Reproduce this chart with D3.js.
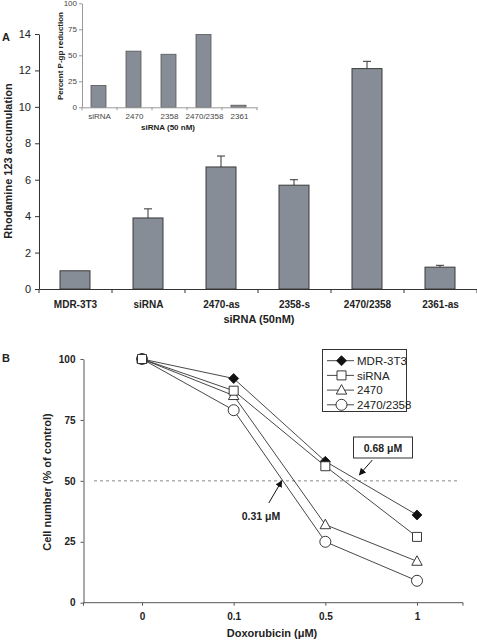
<!DOCTYPE html>
<html><head><meta charset="utf-8">
<script src="https://cdn.jsdelivr.net/npm/d3@7"></script>
<style>body{margin:0;background:#fff} svg{display:block;font-family:"Liberation Sans",Arial,sans-serif}</style>
</head><body><svg id="c" width="477" height="640"></svg>
<script>
// ---------- DATA ----------
const catsA = ["MDR-3T3","siRNA","2470-as","2358-s","2470/2358","2361-as"];
const valuesA = [1.0, 3.9, 6.7, 5.7, 12.1, 1.2];
const errTopA = [null, 4.4, 7.3, 6.0, 12.5, 1.3];
const ticksA = [0,2,4,6,8,10,12,14];

const catsInset = ["siRNA","2470","2358","2470/2358","2361"];
const valuesInset = [21, 54, 51, 70, 2];
const ticksInset = [0,25,50,75,100];

const doses = ["0","0.1","0.5","1"];
const seriesNames = ["MDR-3T3","siRNA","2470","2470/2358"];
const mdr = [100, 92, 58, 36];
const sirna = [100, 87, 56, 27];
const s2470 = [100, 85, 32, 17];
const s2470_2358 = [100, 79, 25, 9];
const ticksB = [0,25,50,75,100];
const ic50 = [0.68, 0.31];

// ---------- SETUP ----------
const svg = d3.select("#c");
const AX = "#333", BAR = "#878d97";

// ===== Panel A main =====
const xA = d3.scaleBand().domain(catsA).range([39, 477]);
const yA = d3.scaleLinear().domain([0, 14]).range([289, 34]);
const gA = svg.append("g");
const barW = 30;
gA.selectAll("rect.bar").data(catsA).join("rect")
  .attr("x", d => xA(d) + (xA.bandwidth() - barW) / 2 - 0.5)
  .attr("y", (d, i) => yA(valuesA[i]))
  .attr("width", barW).attr("height", (d, i) => yA(0) - yA(valuesA[i]))
  .attr("fill", BAR).attr("stroke", "#3a3a3a").attr("stroke-width", 1);
catsA.forEach((c, i) => {
  if (errTopA[i] == null) return;
  const cx = xA(c) + xA.bandwidth() / 2 - 0.5;
  gA.append("line").attr("x1", cx).attr("x2", cx).attr("y1", yA(valuesA[i])).attr("y2", yA(errTopA[i])).attr("stroke", AX);
  gA.append("line").attr("x1", cx - 4).attr("x2", cx + 4).attr("y1", yA(errTopA[i])).attr("y2", yA(errTopA[i])).attr("stroke", AX);
});
// y axis
const yAxA = gA.append("g").attr("transform", "translate(39,0)")
  .call(d3.axisLeft(yA).tickValues(ticksA).tickSize(4).tickSizeOuter(0).tickPadding(4));
yAxA.selectAll("text").attr("font-size", 11).attr("fill", "#222");
yAxA.selectAll("line,path").attr("stroke", AX);
// x axis
const xAxA = gA.append("g").attr("transform", "translate(0,289)")
  .call(d3.axisBottom(xA).tickSize(0).tickPadding(12));
xAxA.selectAll("text").attr("font-size", 10).attr("font-weight", "bold").attr("fill", "#222");
xAxA.select("path").attr("stroke", AX);
catsA.concat([null]).forEach((c, i) => {
  const x = c == null ? xA.range()[1] : xA(c);
  xAxA.append("line").attr("x1", x).attr("x2", x).attr("y1", 0).attr("y2", 4).attr("stroke", AX);
});
gA.append("text").attr("x", 259).attr("y", 323).attr("text-anchor", "middle")
  .attr("font-size", 11).attr("font-weight", "bold").attr("fill", "#222").text("siRNA (50nM)");
gA.append("text").attr("transform", "translate(12,161) rotate(-90)").attr("text-anchor", "middle")
  .attr("font-size", 11).attr("font-weight", "bold").attr("fill", "#222").text("Rhodamine 123 accumulation");
svg.append("text").attr("x", 2).attr("y", 41).attr("font-size", 11).attr("font-weight", "bold").attr("fill", "#222").text("A");

// ===== Inset =====
const xI = d3.scaleBand().domain(catsInset).range([82, 257]);
const yI = d3.scaleLinear().domain([0, 100]).range([107.3, 3.3]);
const gI = svg.append("g");
const barWI = 15;
gI.selectAll("rect").data(catsInset).join("rect")
  .attr("x", d => xI(d) + (xI.bandwidth() - barWI) / 2 - 1)
  .attr("y", (d, i) => yI(valuesInset[i]))
  .attr("width", barWI).attr("height", (d, i) => yI(0) - yI(valuesInset[i]))
  .attr("fill", BAR).attr("stroke", "#555").attr("stroke-width", 0.8);
const yAxI = gI.append("g").attr("transform", "translate(82,0)")
  .call(d3.axisLeft(yI).tickValues(ticksInset).tickSize(3).tickSizeOuter(0).tickPadding(2));
yAxI.selectAll("text").attr("font-size", 8).attr("fill", "#444");
yAxI.selectAll("line,path").attr("stroke", "#999");
const xAxI = gI.append("g").attr("transform", "translate(0,107.3)")
  .call(d3.axisBottom(xI).tickSize(0).tickPadding(6.5));
xAxI.selectAll("text").attr("font-size", 8).attr("fill", "#444");
xAxI.select("path").attr("stroke", "#999");
catsInset.concat([null]).forEach(c => {
  const x = c == null ? xI.range()[1] : xI(c);
  xAxI.append("line").attr("x1", x).attr("x2", x).attr("y1", 0).attr("y2", 3).attr("stroke", "#999");
});
gI.append("text").attr("x", 168).attr("y", 130).attr("text-anchor", "middle")
  .attr("font-size", 8).attr("font-weight", "bold").attr("fill", "#222").text("siRNA (50 nM)");
gI.append("text").attr("transform", "translate(62.5,56) rotate(-90)").attr("text-anchor", "middle")
  .attr("font-size", 8).attr("font-weight", "bold").attr("fill", "#222").text("Percent P-gp reduction");

// ===== Panel B =====
const xB = d3.scalePoint().domain(doses).range([142, 417]);
const yB = d3.scaleLinear().domain([0, 100]).range([602.7, 359]);
const gB = svg.append("g");
const doseNum = doses.map(Number);
function xConc(v) { // position of a concentration between the category points
  for (let i = 0; i < doseNum.length - 1; i++) {
    if (v >= doseNum[i] && v <= doseNum[i + 1]) {
      const t = (v - doseNum[i]) / (doseNum[i + 1] - doseNum[i]);
      return xB(doses[i]) + t * (xB(doses[i + 1]) - xB(doses[i]));
    }
  }
  return xB(doses[doses.length - 1]);
}
// axes
const yAxB = gB.append("g").attr("transform", "translate(83.5,0)")
  .call(d3.axisLeft(yB).tickValues(ticksB).tickSize(3).tickSizeOuter(0).tickPadding(5));
yAxB.selectAll("text").attr("font-size", 10).attr("font-weight", "bold").attr("fill", "#222");
yAxB.selectAll("line,path").attr("stroke", "#555");
const xAxB = gB.append("g").attr("transform", "translate(0,602.7)")
  .call(d3.axisBottom(xB).tickSize(3).tickPadding(7));
xAxB.selectAll("text").attr("font-size", 10).attr("font-weight", "bold").attr("fill", "#222");
xAxB.selectAll("line").attr("stroke", "#555");
xAxB.select("path").remove();
xAxB.append("line").attr("x1", 83.5).attr("x2", 463).attr("y1", 0).attr("y2", 0).attr("stroke", "#555");
[83.5, 463].forEach(x => xAxB.append("line").attr("x1", x).attr("x2", x).attr("y1", 0).attr("y2", 3).attr("stroke", "#555"));
gB.append("text").attr("x", 272).attr("y", 637).attr("text-anchor", "middle")
  .attr("font-size", 11).attr("font-weight", "bold").attr("fill", "#222").text("Doxorubicin (\u03bcM)");
gB.append("text").attr("transform", "translate(51,482) rotate(-90)").attr("text-anchor", "middle")
  .attr("font-size", 11).attr("font-weight", "bold").attr("fill", "#222").text("Cell number (% of control)");
svg.append("text").attr("x", 2).attr("y", 362).attr("font-size", 11).attr("font-weight", "bold").attr("fill", "#222").text("B");

// 50% dashed line
gB.append("line").attr("x1", 94).attr("x2", 460).attr("y1", yB(50)).attr("y2", yB(50))
  .attr("stroke", "#888").attr("stroke-dasharray", "3,3");

// markers
function markerPath(type) {
  if (type === "diamond") return "M0,-5L5,0L0,5L-5,0Z";
  if (type === "square") return "M-4.5,-4.5H4.5V4.5H-4.5Z";
  if (type === "triangle") return "M0,-5.5L5.2,4L-5.2,4Z";
  return d3.arc()({innerRadius: 0, outerRadius: 5.5, startAngle: 0, endAngle: 2 * Math.PI});
}
const series = [
  {name: seriesNames[0], values: mdr, type: "diamond", fill: "#111"},
  {name: seriesNames[1], values: sirna, type: "square", fill: "#fff"},
  {name: seriesNames[2], values: s2470, type: "triangle", fill: "#fff"},
  {name: seriesNames[3], values: s2470_2358, type: "circle", fill: "#fff"}
];
const line = d3.line().x((d, i) => xB(doses[i])).y(d => yB(d));
series.forEach(s => {
  gB.append("path").attr("d", line(s.values)).attr("fill", "none").attr("stroke", "#333").attr("stroke-width", 0.9);
});
const drawOrder = [3, 2, 0, 1];
drawOrder.forEach(k => {
  const s = series[k];
  s.values.forEach((v, i) => {
    gB.append("path").attr("d", markerPath(s.type))
      .attr("transform", `translate(${xB(doses[i])},${yB(v)})`)
      .attr("fill", s.fill).attr("stroke", "#222").attr("stroke-width", 0.9);
  });
});

// legend
const lg = gB.append("g");
lg.append("rect").attr("x", 322.5).attr("y", 349.5).attr("width", 84).attr("height", 62)
  .attr("fill", "#fff").attr("stroke", "#333");
series.forEach((s, i) => {
  const y = 360.7 + i * 14.7;
  lg.append("line").attr("x1", 327).attr("x2", 354).attr("y1", y).attr("y2", y).attr("stroke", "#333").attr("stroke-width", 0.9);
  lg.append("path").attr("d", markerPath(s.type)).attr("transform", `translate(341.5,${y})`)
    .attr("fill", s.fill).attr("stroke", "#222").attr("stroke-width", 0.9);
  lg.append("text").attr("x", 357).attr("y", y).attr("dy", "0.36em")
    .attr("font-size", 11.5).attr("fill", "#222").text(s.name);
});

// annotations
svg.append("defs").append("marker").attr("id", "ah").attr("viewBox", "0 0 10 10")
  .attr("refX", 9).attr("refY", 5).attr("markerWidth", 7).attr("markerHeight", 7)
  .attr("orient", "auto-start-reverse")
  .append("path").attr("d", "M0,0L10,5L0,10Z").attr("fill", "#111");
// 0.68 uM
const x68 = xConc(ic50[0]);
gB.append("rect").attr("x", 353.5).attr("y", 437).attr("width", 59).attr("height", 21)
  .attr("fill", "#fff").attr("stroke", "#333");
gB.append("text").attr("x", 383).attr("y", 451.5).attr("text-anchor", "middle")
  .attr("font-size", 10.5).attr("font-weight", "bold").attr("fill", "#222").text(ic50[0] + " \u03bcM");
gB.append("line").attr("x1", x68 + 14).attr("y1", 460).attr("x2", x68 + 1).attr("y2", yB(50) - 6)
  .attr("stroke", "#111").attr("stroke-width", 1).attr("marker-end", "url(#ah)");
// 0.31 uM
const x31 = xConc(ic50[1]);
gB.append("text").attr("x", 261).attr("y", 519.5).attr("text-anchor", "middle")
  .attr("font-size", 10.5).attr("font-weight", "bold").attr("fill", "#222").text(ic50[1] + " \u03bcM");
gB.append("line").attr("x1", x31 - 13).attr("y1", 503).attr("x2", x31).attr("y2", yB(50))
  .attr("stroke", "#111").attr("stroke-width", 1).attr("marker-end", "url(#ah)");
</script></body></html>
